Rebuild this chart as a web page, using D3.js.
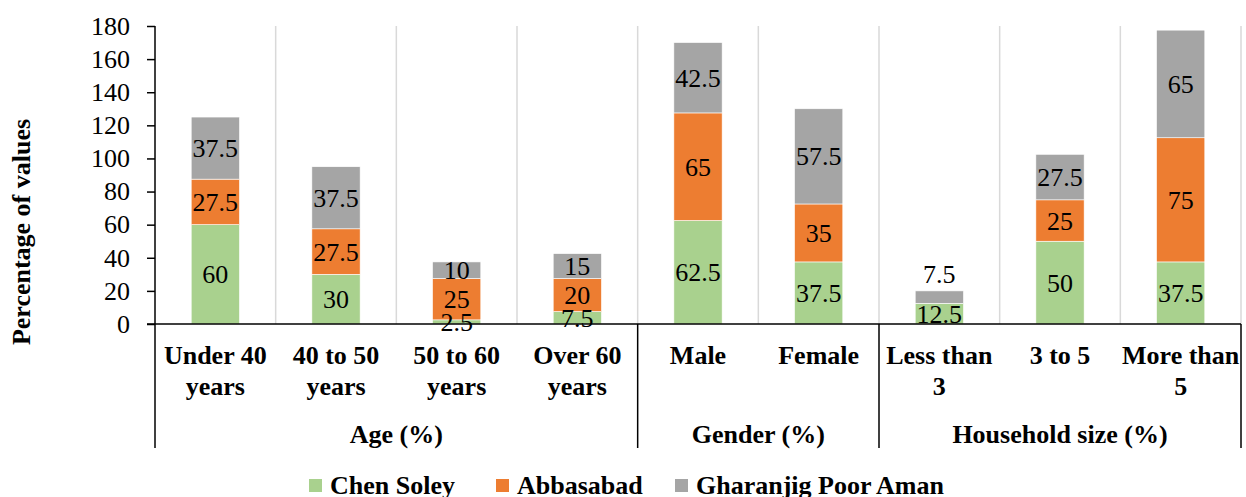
<!DOCTYPE html>
<html>
<head>
<meta charset="utf-8">
<script src="https://cdn.jsdelivr.net/npm/d3@7"></script>
<style>
  body { margin: 0; background: #fff; }
  svg text { font-family: "Liberation Serif", "DejaVu Serif", serif !important; }
</style>
</head>
<body>
<script>
// categories (multi-line labels) and their groups
var categories = ["Under 40 years", "40 to 50 years", "50 to 60 years", "Over 60 years",
  "Male", "Female", "Less than 3", "3 to 5", "More than 5"];
var categoryLines = [["Under 40", "years"], ["40 to 50", "years"], ["50 to 60", "years"], ["Over 60", "years"],
  ["Male"], ["Female"], ["Less than", "3"], ["3 to 5"], ["More than", "5"]];
var groups = ["Age (%)", "Gender (%)", "Household size (%)"];
var groupSizes = [4, 2, 3];

var seriesNames = ["Chen Soley", "Abbasabad", "Gharanjig Poor Aman"];
var chenSoley = [60, 30, 2.5, 7.5, 62.5, 37.5, 12.5, 50, 37.5];
var abbasabad = [27.5, 27.5, 25, 20, 65, 35, 0, 25, 75];
var gharanjig = [37.5, 37.5, 10, 15, 42.5, 57.5, 7.5, 27.5, 65];
var yTicks = [0, 20, 40, 60, 80, 100, 120, 140, 160, 180];

var colors = ["#A9D18E", "#ED7D31", "#A5A5A5"];

var W = 1246, H = 497;
var plotL = 155, plotR = 1241, plotT = 26, plotB = 324;
var fs = 26;
var serif = "'Liberation Serif', 'DejaVu Serif', serif";

var svg = d3.select("body").append("svg")
  .attr("width", W)
  .attr("height", H)
  .attr("font-family", serif);

var x = d3.scaleBand().domain(categories).range([plotL, plotR]).padding(0);
var y = d3.scaleLinear().domain([0, 180]).range([plotB, plotT]);
var barW = x.bandwidth() * 0.4;

// vertical gridlines between categories
svg.append("g").selectAll("line")
  .data(categories)
  .enter().append("line")
  .attr("x1", function(d){ return x(d) + x.bandwidth(); })
  .attr("x2", function(d){ return x(d) + x.bandwidth(); })
  .attr("y1", plotT)
  .attr("y2", plotB)
  .attr("stroke", "#d9d9d9")
  .attr("stroke-width", 1.5);

// stack the series
var rows = categories.map(function(c, i){
  return { cat: c, s0: chenSoley[i], s1: abbasabad[i], s2: gharanjig[i] };
});
var stack = d3.stack().keys(["s0", "s1", "s2"])(rows);

var layers = svg.append("g").selectAll("g")
  .data(stack)
  .enter().append("g")
  .attr("fill", function(d, i){ return colors[i]; });

layers.selectAll("rect")
  .data(function(d){ return d; })
  .enter().append("rect")
  .attr("x", function(d){ return x(d.data.cat) + (x.bandwidth() - barW) / 2; })
  .attr("y", function(d){ return y(d[1]); })
  .attr("width", barW)
  .attr("height", function(d){ return y(d[0]) - y(d[1]); })
  .attr("stroke", "#fff")
  .attr("stroke-width", 0.6);

// y axis
var yAxis = svg.append("g")
  .attr("transform", "translate(" + plotL + ",0)")
  .call(d3.axisLeft(y).tickValues(yTicks).tickSize(8).tickPadding(17));
yAxis.attr("font-family", serif);
yAxis.select(".domain").remove();
yAxis.selectAll("line").attr("stroke", "#000").attr("stroke-width", 1.5);
yAxis.selectAll("text").attr("font-size", fs).attr("fill", "#000");

svg.append("line")
  .attr("x1", plotL).attr("x2", plotL)
  .attr("y1", plotT).attr("y2", 448)
  .attr("stroke", "#000").attr("stroke-width", 1.5);

// x axis line
svg.append("line")
  .attr("x1", plotL - 8).attr("x2", plotR)
  .attr("y1", plotB).attr("y2", plotB)
  .attr("stroke", "#000").attr("stroke-width", 1.5);

// data labels
stack.forEach(function(layer, si){
  layer.forEach(function(d){
    var v = d[1] - d[0];
    if (!v) return;
    var h = y(d[0]) - y(d[1]);
    var cy = (y(d[0]) + y(d[1])) / 2;
    if (si === 2 && h < 15) cy = y(d[1]) - 17;  // too small: put above bar
    svg.append("text")
      .attr("x", x(d.data.cat) + x.bandwidth() / 2)
      .attr("y", cy)
      .attr("dy", "0.35em")
      .attr("text-anchor", "middle")
      .attr("font-size", fs)
      .attr("fill", "#000")
      .text(v);
  });
});

// category labels
categories.forEach(function(c, i){
  var t = svg.append("text")
    .attr("x", x(c) + x.bandwidth() / 2)
    .attr("y", 364)
    .attr("text-anchor", "middle")
    .attr("font-size", fs)
    .attr("font-weight", "bold");
  categoryLines[i].forEach(function(line, j){
    t.append("tspan")
      .attr("x", x(c) + x.bandwidth() / 2)
      .attr("dy", j ? 31 : 0)
      .text(line);
  });
});

// group labels and separators
var start = 0;
groups.forEach(function(g, gi){
  var x0 = x(categories[start]);
  var end = start + groupSizes[gi] - 1;
  var x1 = x(categories[end]) + x.bandwidth();
  svg.append("line")
    .attr("x1", x1).attr("x2", x1)
    .attr("y1", plotB).attr("y2", 448)
    .attr("stroke", "#000").attr("stroke-width", 1.5);
  svg.append("text")
    .attr("x", (x0 + x1) / 2)
    .attr("y", 443)
    .attr("text-anchor", "middle")
    .attr("font-size", fs)
    .attr("font-weight", "bold")
    .text(g);
  start = end + 1;
});

// y axis title
svg.append("text")
  .attr("transform", "translate(30,232) rotate(-90)")
  .attr("text-anchor", "middle")
  .attr("font-size", fs)
  .attr("font-weight", "bold")
  .text("Percentage of values");

// legend
var legendX = [309, 496, 675];
seriesNames.forEach(function(name, i){
  svg.append("rect")
    .attr("x", legendX[i]).attr("y", 479)
    .attr("width", 13).attr("height", 13)
    .attr("fill", colors[i]);
  svg.append("text")
    .attr("x", legendX[i] + 21).attr("y", 494)
    .attr("font-size", fs)
    .attr("font-weight", "bold")
    .text(name);
});
</script>
</body>
</html>
